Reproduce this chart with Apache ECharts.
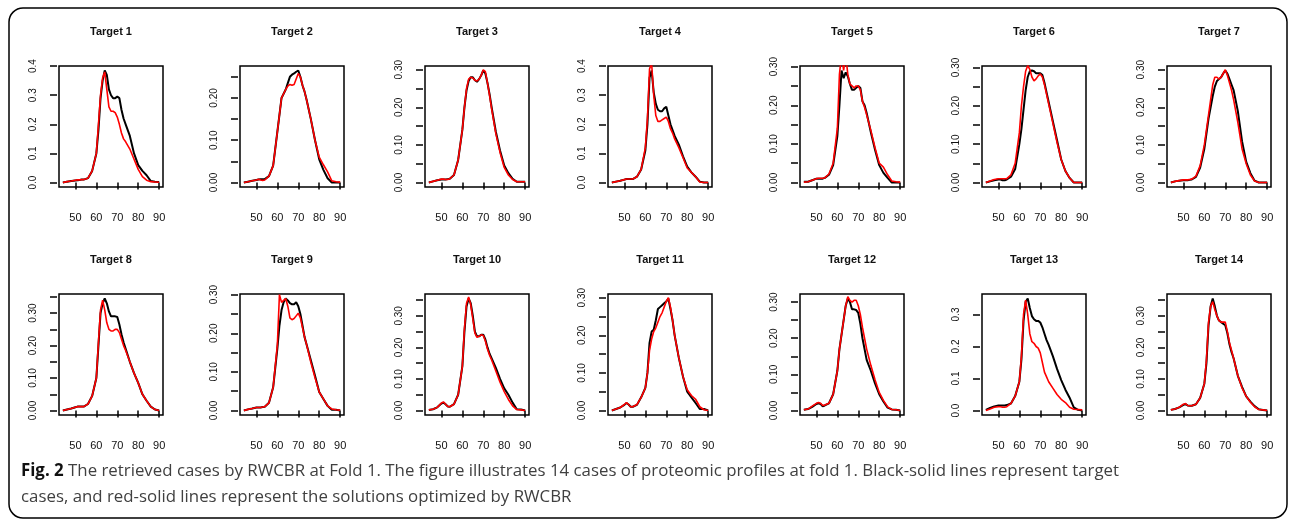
<!DOCTYPE html>
<html>
<head>
<meta charset="UTF-8">
<title>Fig. 2 retrieved cases by RWCBR</title>
<script src="https://cdn.jsdelivr.net/npm/echarts@6/dist/echarts.min.js"></script>
</head>
<body style="margin:0;background:#fff;">
<div id="main" style="width:1290px;height:521px;"></div>
<script>
// m/z-like positions shared by every panel
var xs = [44,46,48,50,51,52,53,54,56,58,60,61,62,63,64,65,66,67,68,69,70,71,72,73,74,76,78,80,82,84,86,88,90];

var titles = ['Target 1','Target 2','Target 3','Target 4','Target 5','Target 6','Target 7',
              'Target 8','Target 9','Target 10','Target 11','Target 12','Target 13','Target 14'];

// black = target case, red = RWCBR solution
var black1 = [0,0.003,0.005,0.007,0.008,0.009,0.01,0.01,0.015,0.04,0.1,0.18,0.29,0.35,0.385,0.37,0.32,0.3,0.29,0.29,0.295,0.29,0.25,0.22,0.2,0.16,0.1,0.06,0.04,0.025,0.005,0.003,0.002];
var red1   = [0,0.003,0.005,0.008,0.009,0.009,0.01,0.01,0.015,0.04,0.1,0.2,0.3,0.36,0.38,0.32,0.26,0.245,0.245,0.24,0.225,0.2,0.17,0.15,0.14,0.115,0.08,0.045,0.02,0.008,0.003,0.002,0.001];
var black2 = [0,0.002,0.004,0.006,0.007,0.008,0.008,0.008,0.015,0.04,0.12,0.16,0.2,0.21,0.22,0.235,0.25,0.255,0.258,0.262,0.265,0.25,0.23,0.215,0.195,0.15,0.1,0.055,0.03,0.01,0,0,0];
var red2   = [0,0.002,0.004,0.006,0.008,0.006,0.005,0.006,0.015,0.04,0.12,0.16,0.2,0.21,0.22,0.228,0.232,0.23,0.232,0.245,0.258,0.25,0.23,0.215,0.195,0.15,0.1,0.06,0.042,0.025,0.004,0.002,0.001];
var black3 = [0,0.003,0.006,0.008,0.008,0.008,0.009,0.01,0.02,0.06,0.14,0.2,0.245,0.27,0.28,0.28,0.272,0.268,0.275,0.285,0.298,0.29,0.265,0.235,0.2,0.135,0.085,0.045,0.025,0.01,0.002,0.002,0.002];
var red3   = [0,0.003,0.006,0.009,0.009,0.008,0.008,0.01,0.02,0.06,0.14,0.2,0.25,0.275,0.28,0.278,0.272,0.27,0.275,0.285,0.3,0.295,0.265,0.232,0.195,0.13,0.08,0.04,0.02,0.008,0.002,0.002,0.002];
var black4 = [0,0.003,0.006,0.01,0.012,0.012,0.012,0.012,0.02,0.045,0.11,0.2,0.36,0.385,0.31,0.27,0.25,0.245,0.245,0.255,0.26,0.23,0.2,0.18,0.16,0.13,0.09,0.055,0.035,0.02,0.003,0,0];
var red4   = [0,0.003,0.006,0.01,0.012,0.012,0.012,0.012,0.02,0.045,0.12,0.22,0.39,0.41,0.3,0.23,0.21,0.21,0.215,0.22,0.225,0.21,0.185,0.17,0.15,0.12,0.085,0.05,0.035,0.02,0.002,0,0];
var black5 = [0.002,0.002,0.006,0.01,0.01,0.01,0.01,0.012,0.02,0.045,0.12,0.2,0.29,0.27,0.285,0.275,0.255,0.24,0.24,0.245,0.25,0.245,0.21,0.2,0.18,0.13,0.085,0.045,0.025,0.012,0,0,0];
var red5   = [0.001,0.002,0.006,0.01,0.011,0.011,0.011,0.012,0.022,0.05,0.14,0.28,0.33,0.29,0.33,0.28,0.255,0.25,0.245,0.25,0.25,0.24,0.21,0.195,0.175,0.135,0.09,0.05,0.04,0.02,0.004,0.002,0.001];
var black6 = [0,0.003,0.006,0.008,0.008,0.006,0.006,0.008,0.015,0.035,0.1,0.14,0.19,0.24,0.275,0.29,0.292,0.29,0.285,0.285,0.285,0.28,0.26,0.235,0.21,0.16,0.11,0.06,0.03,0.012,0,0,0];
var red6   = [0,0.004,0.008,0.01,0.01,0.01,0.01,0.01,0.02,0.05,0.13,0.2,0.25,0.29,0.305,0.295,0.275,0.265,0.27,0.278,0.283,0.275,0.255,0.23,0.205,0.155,0.105,0.06,0.03,0.012,0,0,0];
var black7 = [0,0.003,0.005,0.006,0.006,0.006,0.007,0.008,0.015,0.04,0.09,0.13,0.17,0.2,0.23,0.255,0.27,0.275,0.28,0.29,0.298,0.29,0.275,0.26,0.245,0.19,0.11,0.055,0.025,0.005,0,0,0];
var red7   = [0,0.003,0.005,0.007,0.007,0.007,0.008,0.009,0.017,0.045,0.1,0.14,0.18,0.22,0.26,0.28,0.28,0.275,0.28,0.29,0.3,0.285,0.265,0.245,0.22,0.16,0.09,0.05,0.02,0.004,0,0,0];
var black8 = [0,0.003,0.006,0.01,0.012,0.012,0.012,0.012,0.02,0.045,0.1,0.2,0.3,0.33,0.345,0.33,0.305,0.29,0.29,0.29,0.288,0.265,0.235,0.21,0.19,0.15,0.115,0.085,0.05,0.03,0.012,0.003,0];
var red8   = [0,0.003,0.006,0.01,0.012,0.012,0.012,0.012,0.02,0.045,0.1,0.21,0.31,0.34,0.31,0.27,0.25,0.245,0.245,0.25,0.25,0.24,0.22,0.2,0.185,0.15,0.115,0.085,0.05,0.03,0.012,0.003,0];
var black9 = [0,0.003,0.005,0.008,0.008,0.008,0.009,0.01,0.02,0.06,0.16,0.22,0.26,0.28,0.29,0.285,0.278,0.275,0.275,0.28,0.27,0.25,0.22,0.19,0.17,0.13,0.09,0.048,0.03,0.012,0.002,0.002,0];
var red9   = [0,0.003,0.005,0.008,0.008,0.008,0.009,0.01,0.02,0.06,0.17,0.3,0.28,0.285,0.29,0.27,0.24,0.235,0.238,0.245,0.252,0.24,0.215,0.19,0.17,0.125,0.085,0.048,0.03,0.012,0.004,0.002,0.001];
var black10 = [0.002,0.004,0.01,0.022,0.025,0.02,0.013,0.012,0.02,0.05,0.14,0.25,0.33,0.355,0.34,0.3,0.25,0.235,0.235,0.24,0.24,0.225,0.2,0.18,0.165,0.135,0.1,0.07,0.05,0.025,0.004,0.003,0];
var red10   = [0.002,0.004,0.01,0.024,0.027,0.02,0.013,0.012,0.02,0.05,0.14,0.26,0.34,0.36,0.335,0.29,0.245,0.232,0.235,0.24,0.238,0.22,0.195,0.175,0.16,0.125,0.09,0.06,0.035,0.015,0.003,0.002,0];
var black11 = [0,0.004,0.008,0.015,0.02,0.016,0.01,0.01,0.015,0.035,0.06,0.1,0.18,0.21,0.215,0.24,0.27,0.275,0.28,0.285,0.29,0.298,0.27,0.24,0.2,0.14,0.09,0.05,0.035,0.02,0.004,0.004,0];
var red11   = [0,0.004,0.008,0.016,0.021,0.016,0.01,0.01,0.016,0.035,0.06,0.1,0.16,0.19,0.21,0.22,0.235,0.25,0.26,0.275,0.29,0.3,0.275,0.24,0.2,0.14,0.09,0.055,0.04,0.03,0.01,0.002,0];
var black12 = [0.002,0.004,0.01,0.018,0.02,0.018,0.012,0.014,0.02,0.045,0.11,0.17,0.21,0.25,0.29,0.31,0.3,0.28,0.28,0.278,0.27,0.24,0.2,0.17,0.14,0.11,0.075,0.045,0.025,0.008,0.003,0.002,0];
var red12   = [0.002,0.004,0.012,0.02,0.022,0.02,0.014,0.015,0.02,0.045,0.11,0.17,0.21,0.25,0.29,0.315,0.305,0.3,0.305,0.305,0.29,0.265,0.23,0.2,0.17,0.125,0.085,0.05,0.028,0.01,0.003,0.002,0];
var black13 = [0.002,0.008,0.013,0.016,0.016,0.016,0.016,0.017,0.022,0.045,0.09,0.16,0.28,0.34,0.35,0.32,0.295,0.285,0.28,0.28,0.275,0.26,0.24,0.22,0.205,0.17,0.13,0.095,0.065,0.04,0.01,0.002,0];
var red13   = [0,0.005,0.01,0.012,0.012,0.01,0.01,0.012,0.022,0.045,0.09,0.17,0.3,0.345,0.3,0.24,0.215,0.21,0.2,0.195,0.18,0.15,0.12,0.105,0.09,0.07,0.05,0.035,0.025,0.01,0.004,0.003,0.002];
var black14 = [0.002,0.005,0.01,0.018,0.02,0.016,0.015,0.015,0.02,0.04,0.085,0.15,0.27,0.33,0.355,0.33,0.3,0.285,0.28,0.275,0.27,0.245,0.21,0.185,0.165,0.11,0.075,0.045,0.028,0.014,0.004,0.002,0];
var red14   = [0.002,0.005,0.01,0.02,0.022,0.016,0.015,0.015,0.02,0.04,0.085,0.16,0.28,0.33,0.345,0.32,0.3,0.285,0.28,0.28,0.28,0.25,0.215,0.19,0.165,0.11,0.072,0.045,0.026,0.012,0.003,0.002,0];

var blackSets = [black1,black2,black3,black4,black5,black6,black7,black8,black9,black10,black11,black12,black13,black14];
var redSets = [red1,red2,red3,red4,red5,red6,red7,red8,red9,red10,red11,red12,red13,red14];

// tick labels
var xTicks = [50, 60, 70, 80, 90];
var yTicksA = [0, 0.1, 0.2, 0.3, 0.4];
var yTicksB = [0, 0.05, 0.1, 0.15, 0.2, 0.25];
var yTicksC = [0, 0.05, 0.1, 0.15, 0.2, 0.25, 0.3];
var yTicksD = [0, 0.05, 0.1, 0.15, 0.2, 0.25, 0.3, 0.35];
var yTicksE = [0, 0.1, 0.2, 0.3];
var yLabels2 = [0, 0.1, 0.2, 0.3];
var yTicks = [yTicksA, yTicksB, yTicksC, yTicksA, yTicksC, yTicksC, yTicksC,
              yTicksD, yTicksC, yTicksD, yTicksC, yTicksC, yTicksE, yTicksD];
var yLabels = [yTicksA, yLabels2, yLabels2, yTicksA, yLabels2, yLabels2, yLabels2,
               yLabels2, yLabels2, yLabels2, yLabels2, yLabels2, yTicksE, yLabels2];
var yDigits = [1,2,2,1,2,2,2, 2,2,2,2,2,1,2];

var caption1 = '{b|Fig. 2} The retrieved cases by RWCBR at Fold 1. The figure illustrates 14 cases of proteomic profiles at fold 1. Black-solid lines represent target';
var caption2 = 'cases, and red-solid lines represent the solutions optimized by RWCBR';

var boxLefts = [59, 240, 425, 608, 800, 982, 1167];
var rowTops = [66, 294];
var boxW = 104, boxH = 121;
var tickFont = '"Liberation Sans", Arial, sans-serif';

var chart = echarts.init(document.getElementById('main'), null, {renderer: 'canvas'});

var grids = [], xAxes = [], yAxes = [], series = [], titleList = [];
var pad = (xs[xs.length - 1] - xs[0]) * 0.04;
for (var i = 0; i < 14; i++) {
    var col = i % 7, row = Math.floor(i / 7);
    var blk = blackSets[i], rd = redSets[i];
    var ymax = Math.max.apply(null, blk);
    var digits = yDigits[i];
    grids.push({
        left: boxLefts[col], top: rowTops[row], width: boxW, height: boxH,
        show: true, borderColor: '#000', borderWidth: 1.5, backgroundColor: 'transparent'
    });
    xAxes.push({
        type: 'value', gridIndex: i,
        min: xs[0] - pad, max: xs[xs.length - 1] + pad,
        offset: 3,
        splitLine: {show: false},
        axisLine: {show: false},
        axisTick: {show: true, length: 7, customValues: xTicks, lineStyle: {color: '#000', width: 1.5}},
        axisLabel: {
            customValues: xTicks, margin: 22, color: '#111',
            fontFamily: tickFont, fontSize: 11
        }
    });
    yAxes.push({
        type: 'value', gridIndex: i,
        min: -0.04 * ymax, max: 1.04 * ymax,
        offset: 2,
        splitLine: {show: false},
        axisLine: {show: false},
        axisTick: {show: true, length: 7, customValues: yTicks[i], lineStyle: {color: '#000', width: 1.5}},
        axisLabel: {
            customValues: yLabels[i], margin: 19, rotate: 90, color: '#111',
            fontFamily: tickFont, fontSize: 10,
            formatter: (function (d) {
                return function (v) { return Number(v).toFixed(d); };
            })(digits)
        }
    });
    series.push({
        type: 'line', xAxisIndex: i, yAxisIndex: i, showSymbol: false, silent: true,
        data: xs.map(function (x, k) { return [x, blk[k]]; }),
        lineStyle: {color: '#000', width: 2}, z: 2
    });
    series.push({
        type: 'line', xAxisIndex: i, yAxisIndex: i, showSymbol: false, silent: true,
        data: xs.map(function (x, k) { return [x, rd[k]]; }),
        lineStyle: {color: '#ff0000', width: 1.6}, z: 3
    });
    titleList.push({
        text: titles[i], left: boxLefts[col] + boxW / 2, top: rowTops[row] - 40,
        textAlign: 'center', padding: 0,
        textStyle: {fontFamily: 'Liberation Sans', fontWeight: 'bold', fontSize: 11, color: '#111'}
    });
}

chart.setOption({
    animation: false,
    backgroundColor: '#fff',
    title: titleList,
    grid: grids,
    xAxis: xAxes,
    yAxis: yAxes,
    series: series,
    graphic: [
        {
            type: 'rect', silent: true,
            shape: {x: 9, y: 8, width: 1278, height: 510, r: 14},
            style: {fill: 'none', stroke: '#000', lineWidth: 1.5}
        },
        {
            type: 'text', left: 21, top: 463, scaleX: 0.99,
            style: {
                text: caption1, fill: '#404040',
                font: '17px "Open Sans"',
                rich: {b: {fontWeight: 'bold', fill: '#111', fontFamily: 'Open Sans', fontSize: 17}}
            }
        },
        {
            type: 'text', left: 21, top: 489, scaleX: 0.99,
            style: {text: caption2, fill: '#404040', font: '17px "Open Sans"'}
        }
    ]
});
</script>
</body>
</html>
